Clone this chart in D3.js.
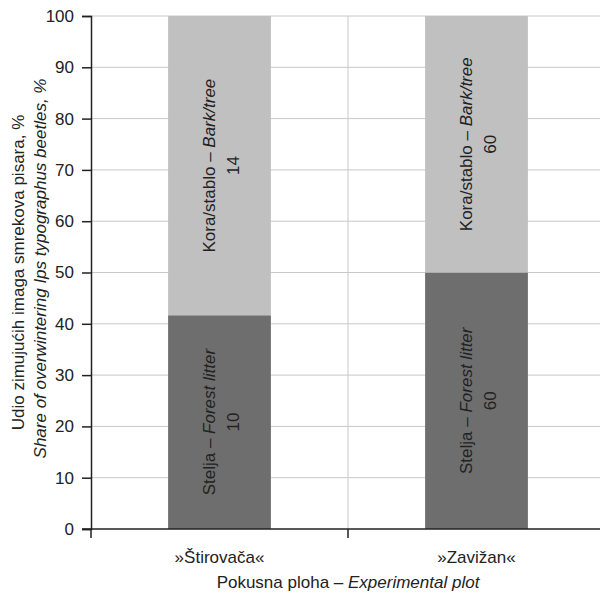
<!DOCTYPE html>
<html><head><meta charset="utf-8">
<script src="https://cdn.jsdelivr.net/npm/d3@7"></script>
<style>
body{margin:0;background:#fff;}
text{font-family:"Liberation Sans",Arial,sans-serif;fill:#222;}
</style></head><body>
<svg id="c" width="600" height="597"></svg>
<script>
const categories = ["»Štirovača«", "»Zavižan«"];
const litterCounts = [10, 60];
const barkCounts = [14, 60];
const yTicks = [0,10,20,30,40,50,60,70,80,90,100];

const svg = d3.select("#c");
const m = {left:91, top:16, right:-5, bottom:68};
const W = 600, H = 597;
const FS = "17px";
const x = d3.scaleBand().domain(categories).range([m.left, W - m.right]).paddingInner(0).paddingOuter(0);
const y = d3.scaleLinear().domain([0,100]).range([H - m.bottom, m.top]);

const data = categories.map((c,i)=>{
  const tot = litterCounts[i] + barkCounts[i];
  return {c, litter: litterCounts[i], bark: barkCounts[i], lp: litterCounts[i]/tot*100};
});

// gridlines
svg.append("g").selectAll("line").data(yTicks.filter(d=>d>0)).join("line")
  .attr("x1", m.left).attr("x2", W).attr("y1", d=>y(d)).attr("y2", d=>y(d))
  .attr("stroke", "#c8c8c8").attr("stroke-width", 1);
// vertical category separator
svg.append("line").attr("x1", x(categories[1])).attr("x2", x(categories[1]))
  .attr("y1", y(100)).attr("y2", y(0)).attr("stroke","#c8c8c8");

const bw = x.bandwidth()*0.4;
const bx = d => x(d.c) + (x.bandwidth()-bw)/2;

// bars
svg.append("g").selectAll("rect").data(data).join("rect")
  .attr("x", bx).attr("width", bw)
  .attr("y", d=>y(d.lp)).attr("height", d=>y(0)-y(d.lp)).attr("fill", "#6e6e6e");
svg.append("g").selectAll("rect").data(data).join("rect")
  .attr("x", bx).attr("width", bw)
  .attr("y", y(100)).attr("height", d=>y(d.lp)-y(100)).attr("fill", "#c0c0c0");

// in-bar labels
function barLabel(cx, cy, plain, ital, val){
  const g = svg.append("g").attr("transform", `translate(${cx},${cy}) rotate(-90)`);
  const t = g.append("text").attr("text-anchor","middle").attr("y", -5).style("font-size",FS);
  t.append("tspan").text(plain);
  t.append("tspan").style("font-style","italic").text(ital);
  g.append("text").attr("text-anchor","middle").attr("y", 19).style("font-size",FS).text(val);
}
data.forEach(d=>{
  const cx = x(d.c) + x.bandwidth()/2;
  barLabel(cx, (y(0)+y(d.lp))/2, "Stelja – ", "Forest litter", d.litter);
  barLabel(cx, (y(d.lp)+y(100))/2, "Kora/stablo – ", "Bark/tree", d.bark);
});

// y axis
const ya = svg.append("g").attr("transform", `translate(${m.left},0)`)
  .call(d3.axisLeft(y).tickValues(yTicks).tickSize(9).tickPadding(8));
ya.select(".domain").attr("stroke","#222").attr("stroke-width",1.5);
ya.selectAll(".tick line").attr("stroke","#222").attr("stroke-width",1.5);
ya.selectAll(".tick text").style("font-size",FS).attr("fill","#222");

// x axis
svg.append("line").attr("x1", 82).attr("x2", W).attr("y1", y(0)).attr("y2", y(0))
  .attr("stroke","#222").attr("stroke-width",1.5);
svg.append("g").selectAll("line").data([x(categories[0]), x(categories[1])]).join("line")
  .attr("x1", d=>d).attr("x2", d=>d).attr("y1", y(0)).attr("y2", y(0)+9)
  .attr("stroke","#222").attr("stroke-width",1.5);
svg.append("g").selectAll("text").data(categories).join("text")
  .attr("x", d=>x(d)+x.bandwidth()/2).attr("y", 563).attr("text-anchor","middle")
  .style("font-size",FS).text(d=>d);

// x title
const xt = svg.append("text").attr("x", 348).attr("y", 588).attr("text-anchor","middle").style("font-size",FS);
xt.append("tspan").text("Pokusna ploha – ");
xt.append("tspan").style("font-style","italic").text("Experimental plot");

// y title
const yt = svg.append("g").attr("transform", `translate(0,${(y(0)+y(100))/2}) rotate(-90)`);
yt.append("text").attr("x",0).attr("y",24).attr("text-anchor","middle").style("font-size",FS)
  .text("Udio zimujućih imaga smrekova pisara, %");
yt.append("text").attr("x",4).attr("y",46).attr("text-anchor","middle").style("font-size",FS)
  .style("font-style","italic").text("Share of overwintering Ips typographus beetles, %");
</script></body></html>
